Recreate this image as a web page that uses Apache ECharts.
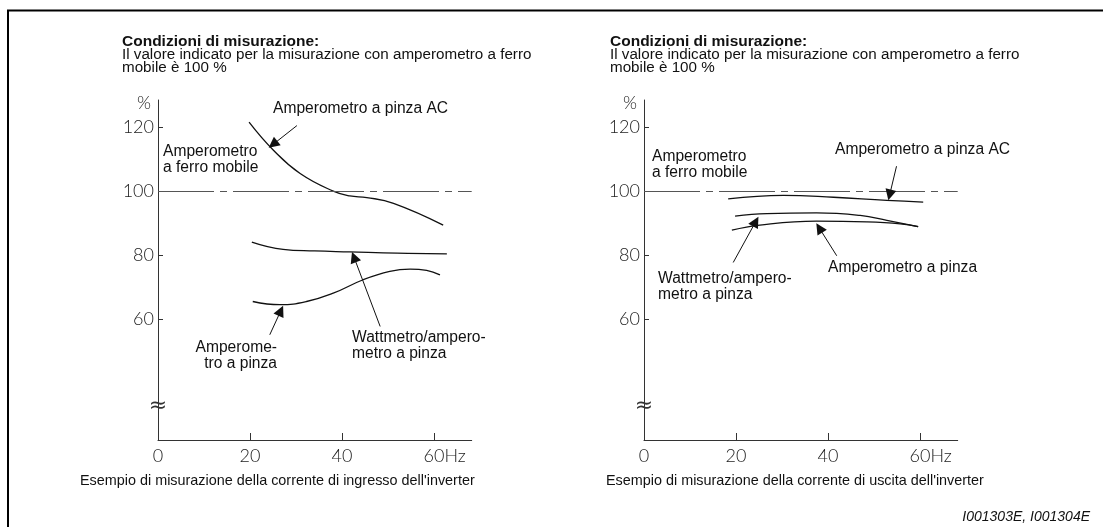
<!DOCTYPE html>
<html>
<head>
<meta charset="utf-8">
<script src="https://cdn.jsdelivr.net/npm/echarts@6/dist/echarts.min.js"></script>
<style>
  html, body { margin: 0; padding: 0; background: #fff; }
  #chart { width: 1103px; height: 527px; }
</style>
</head>
<body>
<div id="chart"></div>
<script>
// Axis ranges and tick labels
const X_MAX = 68.2;
const Y_MIN = 22.2;
const Y_MAX = 128.5;
const xTickLabels = [0, 20, 40, 60];
const xTicks = [20, 40, 60];
const yTickLabels = [60, 80, 100, 120];
const REF_LEVEL = 100;      // moving-iron ammeter reading = 100 %
const BREAK_LEVEL = 32.6;   // where the broken-axis mark sits

// Input current of the inverter: [frequency Hz, reading %]
const inClampAC = [[19.8,121.6],[25.1,112.8],[30.9,105.5],[38.1,100.0],[41.7,98.5],[45.4,98.0],[51.2,96.2],[62.0,89.4]];
const inWattClamp = [[20.4,84.1],[27.2,81.8],[34.0,81.3],[41.7,81.0],[52.0,80.6],[62.8,80.4]];
const inClamp = [[20.6,65.5],[26.5,64.5],[32.3,65.5],[38.1,68.1],[44.6,72.3],[50.4,74.9],[54.8,75.6],[58.4,75.2],[61.3,73.8]];

// Output current of the inverter: [frequency Hz, reading %]
const outClampAC = [[18.3,97.6],[30.3,98.7],[41.2,98.1],[52.8,97.1],[60.7,96.6]];
const outWattClamp = [[19.8,92.2],[26.7,93.0],[37.5,93.2],[47.0,92.4],[52.8,90.9],[59.6,88.9]];
const outClamp = [[19.1,87.8],[25.2,89.4],[37.5,90.6],[48.4,90.4],[55.7,89.8],[59.6,88.9]];

// Pointer arrows for the curve captions: [from, to] in axis units
const inArrows = [
  [[30.2,120.5],[25.0,114.6]],
  [[48.3,57.7],[42.6,79.4]],
  [[24.3,55.1],[26.7,62.6]]
];
const outArrows = [
  [[54.9,107.8],[53.4,98.8]],
  [[19.4,77.7],[24.3,90.5]],
  [[41.9,79.8],[38.1,88.5]]
];

const TICK_FONT = { fontFamily: 'Lato', fontWeight: 300, fontSize: 18, color: '#222' };
const AXIS_COLOR = '#333';

function xAxisFor(gridIndex) {
  return {
    type: 'value', gridIndex, min: 0, max: X_MAX,
    axisLine: { show: true, onZero: false, lineStyle: { color: AXIS_COLOR, width: 1 } },
    axisTick: { show: true, inside: true, length: 7, customValues: xTicks, lineStyle: { color: AXIS_COLOR } },
    axisLabel: {
      customValues: xTickLabels, margin: 7, ...TICK_FONT,
      formatter: v => v === 60 ? '{g|Hz}60Hz' : String(v),
      rich: { g: { ...TICK_FONT, color: 'rgba(0,0,0,0)' } }
    },
    splitLine: { show: false }
  };
}
function yAxisFor(gridIndex) {
  return {
    type: 'value', gridIndex, min: Y_MIN, max: Y_MAX,
    axisLine: { show: true, onZero: false, lineStyle: { color: AXIS_COLOR, width: 1 } },
    axisTick: { show: true, inside: true, length: 5, customValues: yTickLabels, lineStyle: { color: AXIS_COLOR } },
    axisLabel: { customValues: yTickLabels, margin: 4, ...TICK_FONT },
    splitLine: { show: false }
  };
}

function curve(data, gi, arrows) {
  return {
    type: 'line', xAxisIndex: gi, yAxisIndex: gi, data,
    smooth: 0.45, showSymbol: false, silent: true,
    lineStyle: { color: '#111', width: 1.3 },
    markLine: {
      silent: true, symbol: ['none', 'triangle'], symbolSize: 11,
      lineStyle: { color: '#111', width: 1, type: 'solid' },
      label: { show: false },
      data: arrows.map(a => [{ coord: a[0] }, { coord: a[1] }])
    }
  };
}
function refLine(gi) {
  return {
    type: 'line', xAxisIndex: gi, yAxisIndex: gi, data: [], silent: true,
    markLine: {
      silent: true, symbol: ['none', 'none'], label: { show: false },
      lineStyle: { color: '#555', width: 1, type: [56, 6, 7, 6] },
      data: [{ yAxis: REF_LEVEL }]
    }
  };
}

const chart = echarts.init(document.getElementById('chart'), null, { renderer: 'canvas' });
chart.setOption({
  animation: false,
  backgroundColor: '#fff',
  grid: [
    { left: 158, top: 100, width: 313.7, height: 340 },
    { left: 644, top: 100, width: 313.7, height: 340 }
  ],
  xAxis: [xAxisFor(0), xAxisFor(1)],
  yAxis: [yAxisFor(0), yAxisFor(1)],
  series: [
    refLine(0),
    curve(inClampAC, 0, [inArrows[0]]),
    curve(inWattClamp, 0, [inArrows[1]]),
    curve(inClamp, 0, [inArrows[2]]),
    refLine(1),
    curve(outClampAC, 1, [outArrows[0]]),
    curve(outWattClamp, 1, [outArrows[1]]),
    curve(outClamp, 1, [outArrows[2]])
  ]
});

// Captions, frame and axis-break marks
const TXT = { fontFamily: 'Liberation Sans, Arial, sans-serif', fill: '#111' };
function text(x, y, str, extra) {
  return { type: 'text', x, y, silent: true,
    style: Object.assign({ text: str, fontSize: 15.6, lineHeight: 16, verticalAlign: 'middle', align: 'left' }, TXT, extra || {}) };
}
function breakMark(gi) {
  const p = chart.convertToPixel({ xAxisIndex: gi, yAxisIndex: gi }, [0, BREAK_LEVEL]);
  return text(p[0], p[1], '\u2248', { align: 'center', fontSize: 22, fontFamily: 'DejaVu Sans', fill: '#333' });
}
function header(x) {
  return [
    text(x, 41.5, 'Condizioni di misurazione:', { fontSize: 15.5, fontWeight: 'bold' }),
    text(x, 55, 'Il valore indicato per la misurazione con amperometro a ferro', { fontSize: 15.2 }),
    text(x, 68, 'mobile \u00e8 100 %', { fontSize: 15.2 })
  ];
}

chart.setOption({
  graphic: [
    { type: 'polyline', silent: true, shape: { points: [[8, 527], [8, 10.5], [1103, 10.5]] },
      style: { stroke: '#000', lineWidth: 2, fill: null } },
    ...header(122),
    ...header(610),
    text(144, 103, '%', { align: 'center', fontFamily: 'Lato', fontWeight: 300, fontSize: 18, fill: '#222' }),
    text(630, 103, '%', { align: 'center', fontFamily: 'Lato', fontWeight: 300, fontSize: 18, fill: '#222' }),
    breakMark(0), breakMark(1),
    // left chart captions
    text(273, 109, 'Amperometro a pinza AC'),
    text(163, 160, 'Amperometro\na ferro mobile'),
    text(277, 356, 'Amperome-\ntro a pinza', { align: 'right' }),
    text(352, 346, 'Wattmetro/ampero-\nmetro a pinza'),
    // right chart captions
    text(835, 150, 'Amperometro a pinza AC'),
    text(652, 165, 'Amperometro\na ferro mobile'),
    text(658, 287, 'Wattmetro/ampero-\nmetro a pinza'),
    text(828, 268, 'Amperometro a pinza'),
    // bottom captions
    text(80, 481, "Esempio di misurazione della corrente di ingresso dell'inverter", { fontSize: 14.4 }),
    text(606, 481, "Esempio di misurazione della corrente di uscita dell'inverter", { fontSize: 14.4 }),
    text(1090, 517, 'I001303E, I001304E', { align: 'right', fontSize: 14, fontStyle: 'italic' })
  ]
});
</script>
</body>
</html>
